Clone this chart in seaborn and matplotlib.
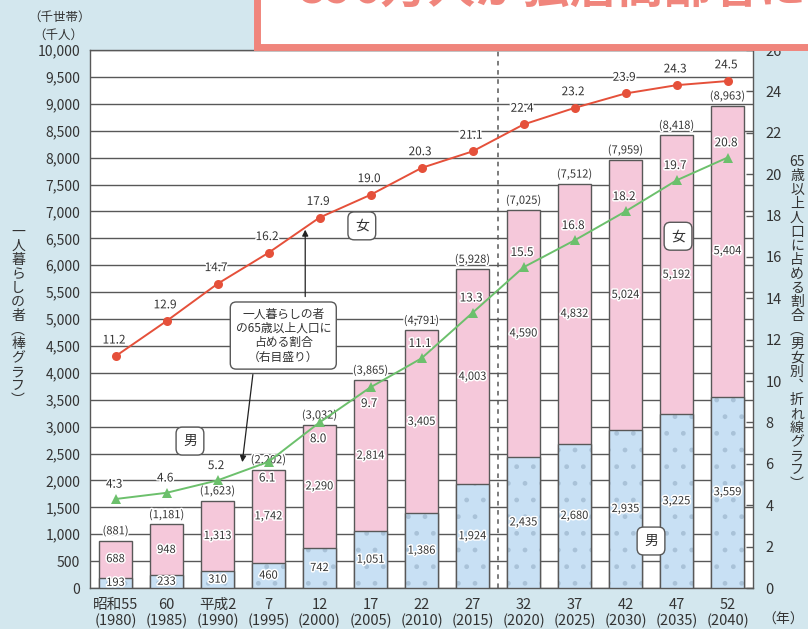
import numpy as np
import pandas as pd
import matplotlib
matplotlib.use("Agg")
import matplotlib.pyplot as plt
import seaborn as sns
from matplotlib.patches import Rectangle
import matplotlib.patheffects as pe

# ---------------- data ----------------
era = ["昭和55", "60", "平成2", "7", "12", "17", "22", "27", "32", "37", "42", "47", "52"]
years = ["1980", "1985", "1990", "1995", "2000", "2005", "2010", "2015",
         "2020", "2025", "2030", "2035", "2040"]
male = [193, 233, 310, 460, 742, 1051, 1386, 1924, 2435, 2680, 2935, 3225, 3559]
female = [688, 948, 1313, 1742, 2290, 2814, 3405, 4003, 4590, 4832, 5024, 5192, 5404]
total = [881, 1181, 1623, 2202, 3032, 3865, 4791, 5928, 7025, 7512, 7959, 8418, 8963]
female_pct = [11.2, 12.9, 14.7, 16.2, 17.9, 19.0, 20.3, 21.1, 22.4, 23.2, 23.9, 24.3, 24.5]
male_pct = [4.3, 4.6, 5.2, 6.1, 8.0, 9.7, 11.1, 13.3, 15.5, 16.8, 18.2, 19.7, 20.8]

# ---------------- style ----------------
BG = "#d3e7ee"
PINK = "#f5c8da"
BLUE = "#c8e0f4"
DOT = "#a9c2d8"
EDGE = "#585858"
RED = "#e5503a"
GREEN = "#6cc06c"
SALMON = "#f0857c"
TXT = "#333333"

sns.set_theme(style="white")
plt.rcParams["font.family"] = ["Noto Sans CJK JP", "DejaVu Sans"]
plt.rcParams["hatch.linewidth"] = 1.0

labels = [f"{e}\n({y})" for e, y in zip(era, years)]
df = pd.DataFrame({"label": labels, "male": male, "female": female, "total": total,
                   "fpct": female_pct, "mpct": male_pct, "pos": np.arange(len(era))})

fig = plt.figure(figsize=(8.08, 6.29), dpi=100, facecolor=BG)
ax = fig.add_axes([90 / 808, 41 / 629, 663 / 808, 538 / 629])
ax.set_facecolor("white")

# bars
sns.barplot(data=df, x="label", y="total", color=PINK, saturation=1, width=0.63,
            edgecolor=EDGE, linewidth=1.0, ax=ax, zorder=2)
sns.barplot(data=df, x="label", y="male", color=BLUE, saturation=1, width=0.63,
            edgecolor=DOT, linewidth=0, hatch=".", ax=ax, zorder=3)
sns.barplot(data=df, x="label", y="male", color=EDGE, fill=False, width=0.63,
            linewidth=1.0, ax=ax, zorder=4)

ax.set_xlim(-0.5, 12.5)
ax.set_ylim(0, 10000)
ax.set_yticks(np.arange(0, 10001, 500))
ax.set_yticklabels([f"{v:,}" for v in range(0, 10001, 500)], fontsize=10, color=TXT)
ax.set_xticks(range(len(era)))
ax.set_xticklabels(labels, fontsize=10.5, color=TXT, linespacing=1.15)
ax.set_xlabel("")
ax.set_ylabel("")
ax.yaxis.grid(True, color=EDGE, linewidth=1.0, zorder=1)
ax.set_axisbelow(True)
ax.tick_params(axis="y", length=0, pad=7)
ax.tick_params(axis="x", which="major", length=0, pad=7)
ax.set_xticks(np.arange(0.5, 12.5, 1), minor=True)
ax.tick_params(axis="x", which="minor", direction="in", length=4, width=1, color=EDGE)
for s in ax.spines.values():
    s.set_color(EDGE)
    s.set_linewidth(1.0)
ax.axvline(7.5, color=EDGE, linestyle=(0, (3, 3)), linewidth=1.1, zorder=5)

halo = [pe.withStroke(linewidth=2.2, foreground="white")]
for i in range(len(era)):
    ax.text(i, male[i] / 2, f"{male[i]:,}", ha="center", va="center", fontsize=8,
            color=TXT, zorder=6, path_effects=halo)
    ax.text(i, male[i] + female[i] / 2, f"{female[i]:,}", ha="center", va="center",
            fontsize=8, color=TXT, zorder=6, path_effects=halo)
    ax.annotate(f"({total[i]:,})", (i, total[i]), xytext=(0, 3), textcoords="offset points",
                ha="center", va="bottom", fontsize=8, color=TXT, zorder=6,
                path_effects=halo)

# lines (right axis)
ax2 = ax.twinx()
ax2.set_ylim(0, 26)
sns.lineplot(data=df, x="pos", y="fpct", color=RED, marker="o", markersize=6.5,
             markeredgewidth=0, linewidth=1.4, ax=ax2, zorder=5)
sns.lineplot(data=df, x="pos", y="mpct", color=GREEN, marker="^", markersize=7,
             markeredgewidth=0, linewidth=1.4, ax=ax2, zorder=5)
ax2.set_xlim(-0.5, 12.5)
ax2.set_yticks(np.arange(0, 27, 2))
ax2.set_yticklabels([str(v) for v in range(0, 27, 2)], fontsize=10.5, color=TXT)
ax2.set_ylabel("")
ax2.tick_params(axis="y", direction="in", length=5, width=1, color=EDGE, pad=9)
for s in ax2.spines.values():
    s.set_visible(False)

for i in range(len(era)):
    ax2.annotate(f"{female_pct[i]:.1f}", (i, female_pct[i]), xytext=(-1, 7),
                 textcoords="offset points", ha="center", va="bottom", fontsize=8.5,
                 color=TXT, zorder=7, path_effects=halo)
    below = i in (3, 4, 5)
    ax2.annotate(f"{male_pct[i]:.1f}", (i, male_pct[i]), xytext=(-1, -7 if below else 6),
                 textcoords="offset points", ha="center", va="top" if below else "bottom",
                 fontsize=8.5, color=TXT, zorder=7, path_effects=halo)

# annotation box with arrows
box = dict(boxstyle="round,pad=0.45,rounding_size=0.5", facecolor="white",
           edgecolor=EDGE, linewidth=1)
ax2.text(3.29, 12.2, "一人暮らしの者\nの65歳以上人口に\n占める割合\n（右目盛り）",
         ha="center", va="center", fontsize=8.5, color=TXT, linespacing=1.15,
         bbox=box, zorder=8)
arrow = dict(arrowstyle="-|>", color="#222222", linewidth=0.9, mutation_scale=9)
ax2.annotate("", xy=(3.72, 17.45), xytext=(3.72, 13.95), arrowprops=arrow, zorder=8)
ax2.annotate("", xy=(2.48, 5.95), xytext=(2.70, 10.45), arrowprops=arrow, zorder=8)

tagbox = dict(boxstyle="round,pad=0.5,rounding_size=0.45", facecolor="white",
              edgecolor=EDGE, linewidth=1)
for (tx, ty, s) in [(4.83, 17.5, "女"), (1.46, 7.1, "男"), (11.03, 17.0, "女"),
                    (10.5, 2.27, "男")]:
    ax2.text(tx, ty, s, ha="center", va="center", fontsize=10, color=TXT,
             bbox=tagbox, zorder=8)

# axis titles / units
fig.text(60 / 808, 1 - 17 / 629, "（千世帯）", ha="center", va="center", fontsize=9, color=TXT)
fig.text(58 / 808, 1 - 35 / 629, "（千人）", ha="center", va="center", fontsize=9, color=TXT)
fig.text(783 / 808, 1 - 620 / 629, "（年）", ha="center", va="center", fontsize=10, color=TXT)

left_title = "\n".join(list("一人暮らしの者︵棒グラフ︶"))
fig.text(18 / 808, 1 - 316 / 629, left_title, ha="center", va="center", fontsize=10,
         color=TXT, linespacing=1.0)
right_title = "\n".join(["65"] + list("歳以上人口に占める割合︵男女別︑折れ線グラフ︶"))
fig.text(797 / 808, 1 - 323 / 629, right_title, ha="center", va="center", fontsize=10,
         color=TXT, linespacing=1.0)

# headline banner (cut off at the top, as in the source)
fig.patches.append(Rectangle((256.5 / 808, 1 - 46.5 / 629), 1.0, 1.0,
                             transform=fig.transFigure, facecolor="white",
                             edgecolor=SALMON, linewidth=5, zorder=10))
fig.text(298 / 808, 1 - 14 / 629, "896万人が独居高齢者に", fontsize=34, color=SALMON,
         fontweight="bold", va="bottom", ha="left", zorder=11)

fig.savefig("out.png", dpi=100, facecolor=BG)
